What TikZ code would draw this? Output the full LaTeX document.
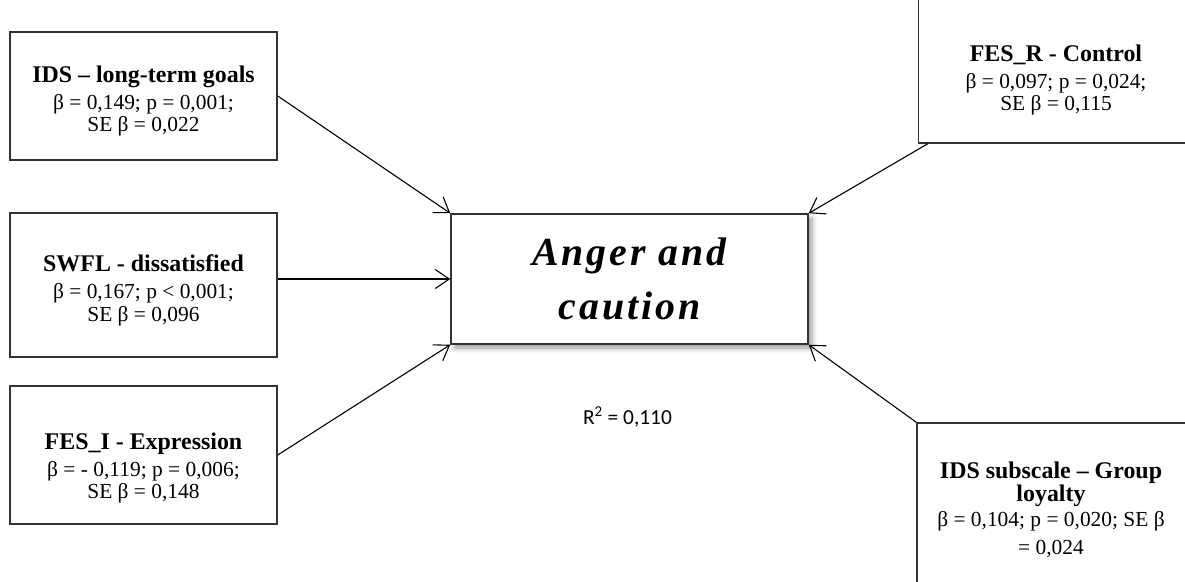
\documentclass[tikz,border=0pt]{standalone}
\usepackage{fontspec}
\setmainfont{Liberation Serif}
\newfontfamily\calibri{Carlito}
\newfontfamily\spacedserif[LetterSpace=7.5]{Liberation Serif}
\usetikzlibrary{arrows.meta, shadows.blur}
\newcommand{\ttl}{\fontsize{24}{27}\selectfont\bfseries}
\newcommand{\bdy}{\fontsize{21.5}{23}\selectfont}
\tikzset{
  box/.style={draw=black!80, line width=1.5bp, fill=white, inner sep=0pt},
  leftbox/.style={box, minimum width=267bp},
  rightbox/.style={box, minimum width=275bp},
  txt/.style={align=center, font=\bdy, inner sep=0pt},
  arr/.style={-{Straight Barb[length=14bp,width=19bp]}, line width=1.1bp}}

\begin{document}
\begin{tikzpicture}[x=1bp, y=-1bp]
\useasboundingbox (0,0) rectangle (1185,582);
\clip (0,0) rectangle (1185,582);
	% predictors
	\node[leftbox, minimum height=128bp] (ltg) at (143.5,96) {};
	\node[txt] (ltgtext) at (143.5,101)
		{{\ttl IDS – long-term goals}\\[4bp] β = 0,149; p = 0,001;\\ SE β = 0,022};
	\node[leftbox, minimum height=144bp] (swfl) at (143.5,285) {};
	\node[txt] (swfltext) at (143.5,290)
		{{\ttl SWFL - dissatisfied}\\[4bp] β = 0,167; p < 0,001;\\ SE β = 0,096};
	\node[leftbox, minimum height=138bp] (fesi) at (143.5,455) {};
	\node[txt] (fesitext) at (143.5,468)
		{{\ttl FES\_I - Expression}\\[4bp] β = - 0,119; p = 0,006;\\ SE β = 0,148};
	\node[rightbox, minimum height=153bp] (fesr) at (1056,66.5) {};
	\node[txt] (fesrtext) at (1056,80)
		{{\ttl FES\_R - Control}\\[4bp] β = 0,097; p = 0,024;\\ SE β = 0,115};
	\node[rightbox, minimum height=167bp] (idsg) at (1054.5,506.5) {};
	\node[txt] (idsgtext) at (1051,510)
		{{\ttl IDS subscale – Group}\\ {\ttl loyalty}\\[2bp] β = 0,104; p = 0,020; SE β\\[5bp] = 0,024};
	% outcome
	\node[box, minimum width=357bp, minimum height=130bp, align=center,
		blur shadow={shadow xshift=4bp, shadow yshift=-4bp, shadow blur radius=5bp},
		font={\fontsize{40}{55}\spacedserif\bfseries\itshape}] (anger) at (629.5,279)
		{Anger and\\ caution};
	\node[font={\calibri\fontsize{21.5}{24}\selectfont}] (rsq) at (627.5,417)
		{R\textsuperscript{2} = 0,110};
	% paths
	\draw[arr] (ltg.east) -- (anger.north west);
	\draw[arr] (swfl.east |- anger.west) -- (anger.west);
	\draw[arr] (fesi.east) -- (anger.south west);
	\draw[arr] ([xshift=10bp]fesr.south west) -- (anger.north east);
	\draw[arr] (idsg.north west) -- (anger.south east);
\end{tikzpicture}
\end{document}
